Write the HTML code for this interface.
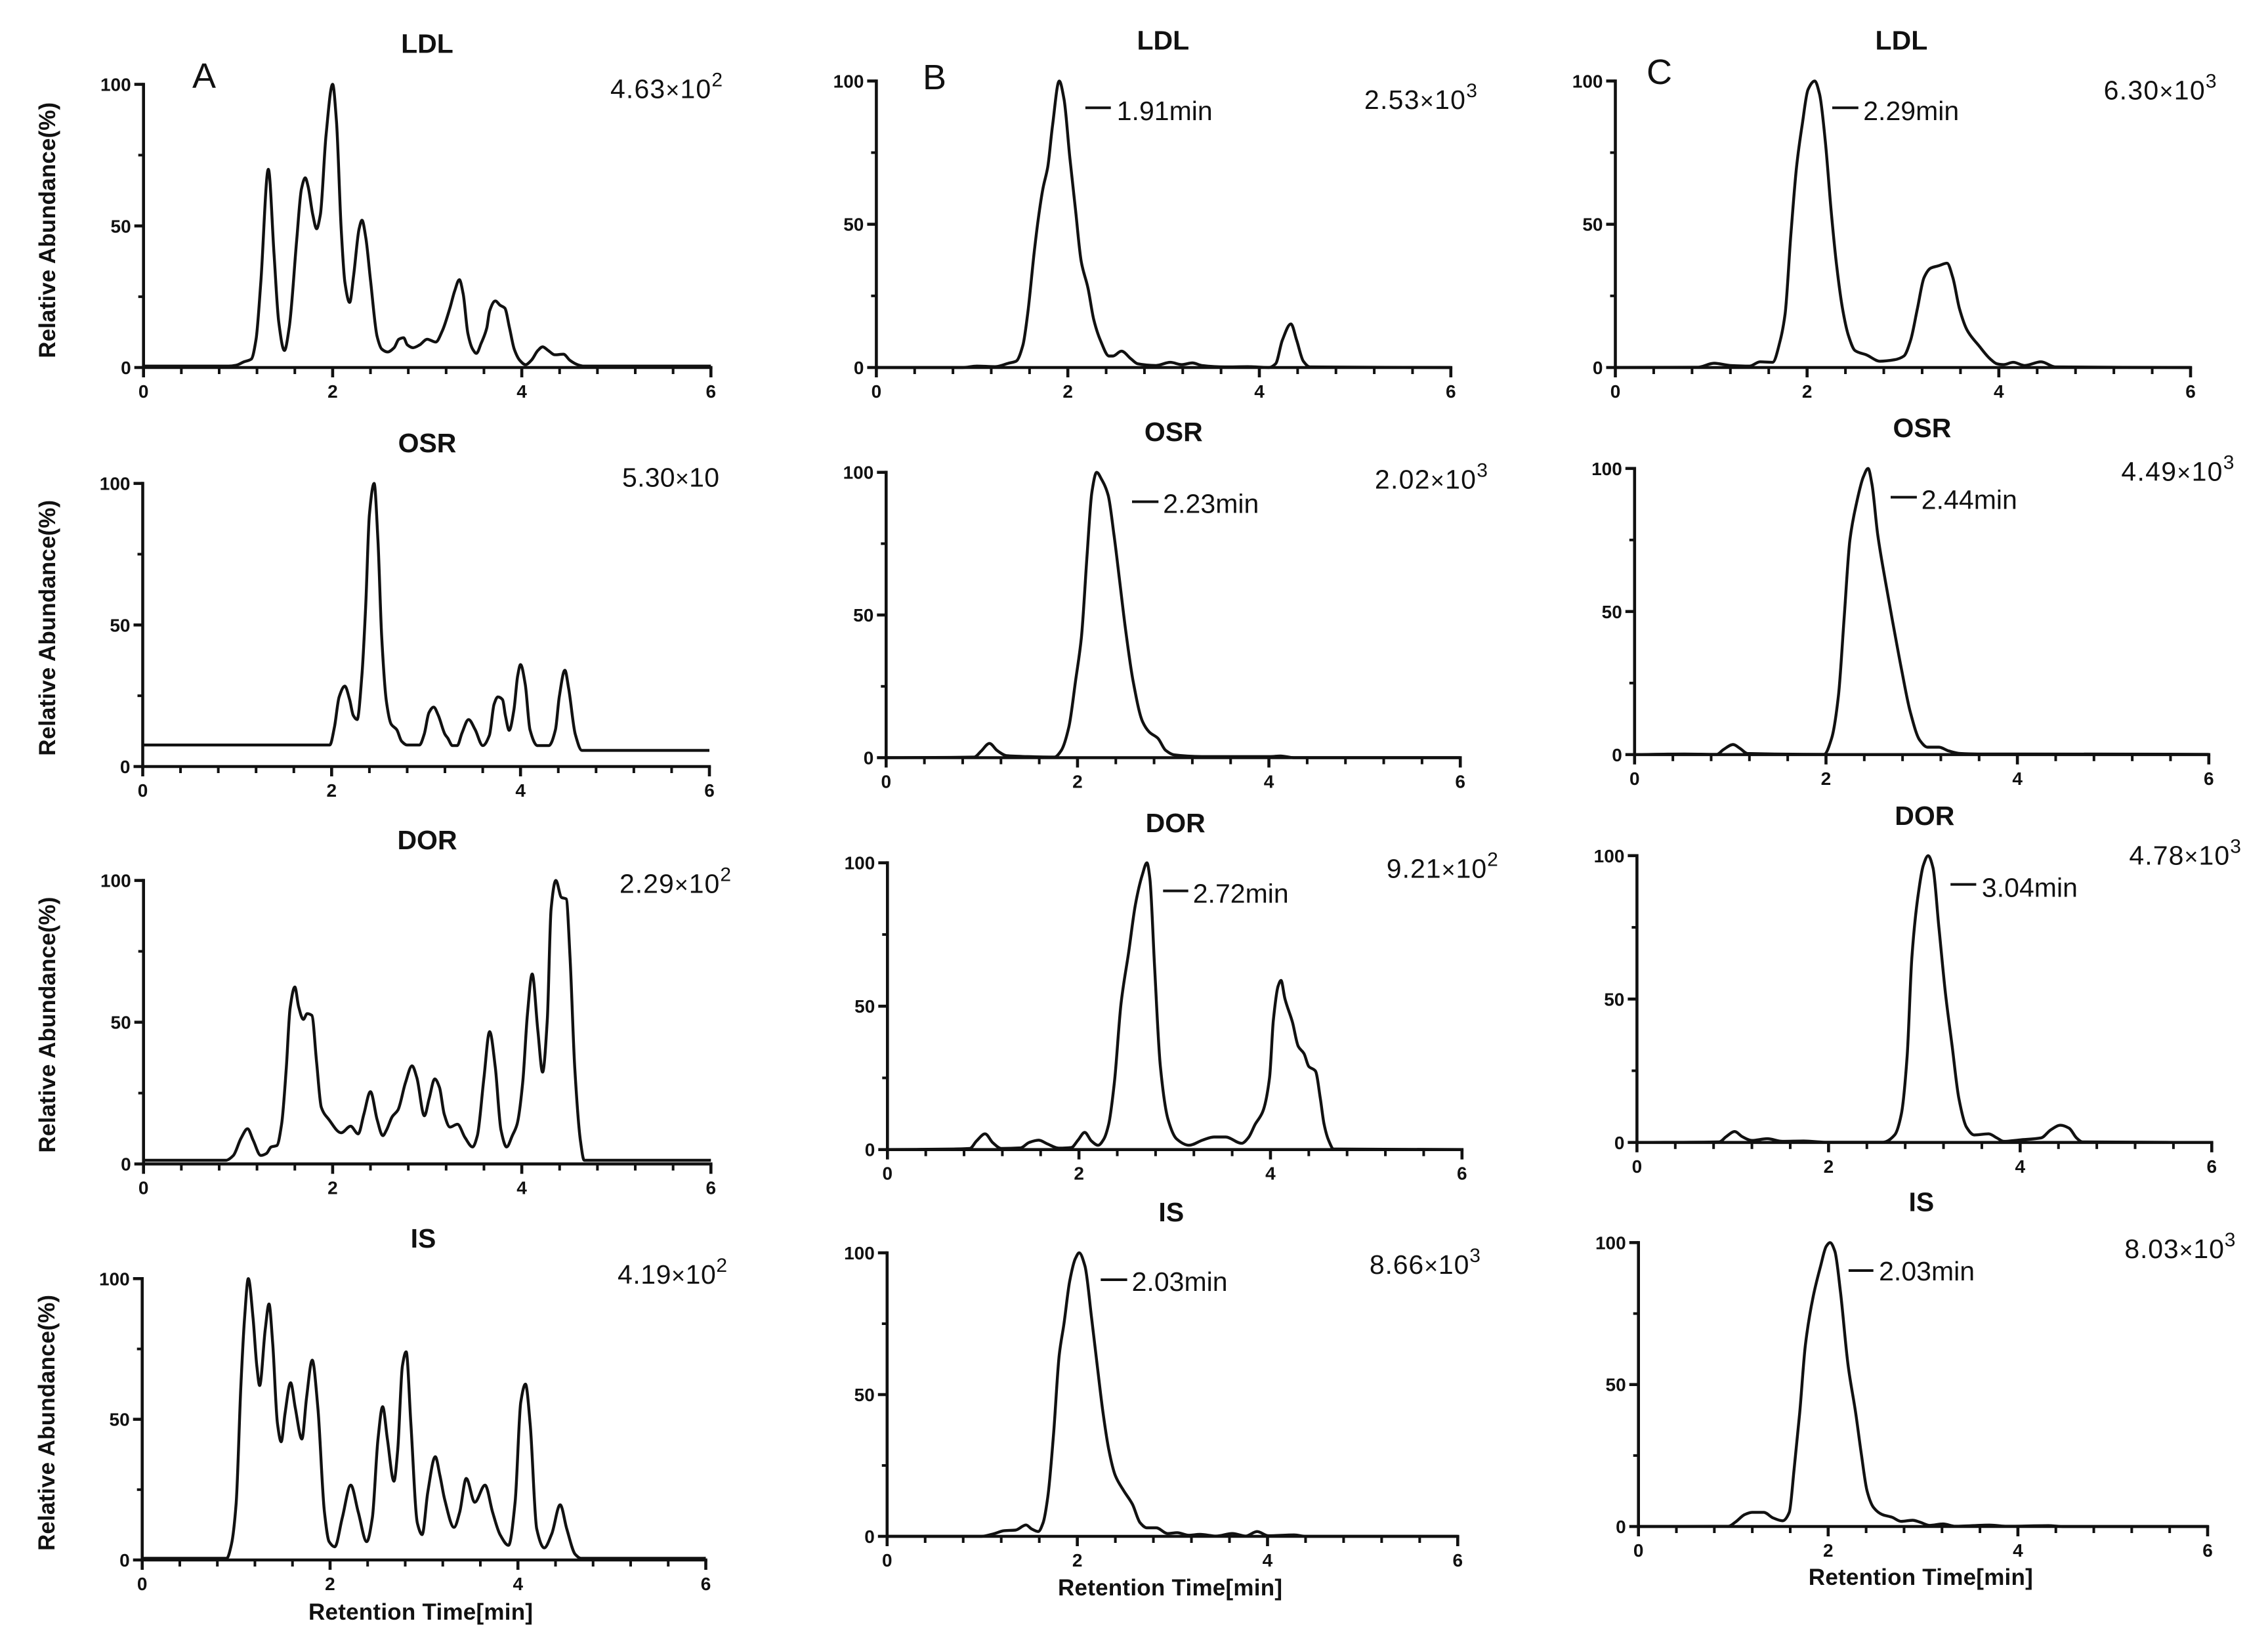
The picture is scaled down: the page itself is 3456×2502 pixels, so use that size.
<!DOCTYPE html>
<html lang="en">
<head>
<meta charset="utf-8">
<title>LC-MS/MS chromatograms</title>
<style>
html,body{margin:0;padding:0;background:#fff;width:3456px;height:2502px;overflow:hidden}
svg{display:block;font-family:"Liberation Sans",sans-serif}
</style>
</head>
<body>
<svg id="figure" xmlns="http://www.w3.org/2000/svg" width="3456" height="2502" viewBox="0 0 3456 2502">
<rect width="3456" height="2502" fill="#fff"/>
<text x="293" y="134" font-size="54" fill="#111">A</text>
<text x="1406" y="136" font-size="54" fill="#111">B</text>
<text x="2509" y="128" font-size="54" fill="#111">C</text>
</svg>
<script>
const xTickValues=[0,0.4,0.8,1.2,1.6,2,2.4,2.8,3.2,3.6,4,4.4,4.8,5.2,5.6,6];
const xTickLabels=["0","2","4","6"];
const yTickValues=[0,25,50,75,100];
const yTickLabels=["0","50","100"];

const ldlATimes=[0,0.9,0.98,1.06,1.14,1.19,1.24,1.32,1.38,1.43,1.49,1.54,1.62,1.67,1.71,1.74,1.79,1.83,1.87,1.93,2,2.04,2.09,2.13,2.18,2.22,2.28,2.31,2.35,2.4,2.47,2.52,2.58,2.65,2.7,2.75,2.79,2.85,2.92,3,3.09,3.16,3.24,3.29,3.34,3.38,3.43,3.48,3.52,3.57,3.63,3.66,3.72,3.77,3.82,3.87,3.92,3.98,4.04,4.1,4.17,4.22,4.28,4.35,4.44,4.51,4.59,4.65,6];
const ldlAValues=[0.5,0.5,0.8,2,3,10,30,70,40,16,6,14,45,63,67,64,54,49,54,82,100,87,49,30,23,32,49,52,46,31,11,6.5,5.5,7,10,10.5,8,7,8,10,9,13,21,27,31,26,12,6.5,5,8.5,14,20,23.5,22,21,14,6.5,2.5,1,2.5,6,7.3,6,4.5,4.7,2.5,1,0.5,0.5];
const osrATimes=[0,1.98,2.03,2.08,2.14,2.19,2.23,2.27,2.32,2.36,2.4,2.45,2.49,2.53,2.58,2.63,2.69,2.74,2.8,2.93,2.98,3.03,3.08,3.13,3.2,3.23,3.28,3.33,3.38,3.45,3.52,3.6,3.67,3.72,3.76,3.81,3.84,3.88,3.93,3.97,4,4.05,4.1,4.18,4.3,4.37,4.41,4.47,4.51,4.58,4.65,6];
const osrAValues=[7.6,7.6,14,24.6,28.4,23.7,18,16.6,32,56,89,100,80,46,23,15,13,9,7.6,7.6,11.4,19,21,18,11.4,10,7.4,7.4,11.8,16.6,13,7.4,11,22,24.6,23.6,18,12.8,20,32,36,29,13,7.4,7.4,13,24.6,34,27.5,11.4,5.7,5.7];
const dorATimes=[0,0.87,0.95,1.03,1.1,1.16,1.24,1.3,1.35,1.41,1.46,1.51,1.55,1.6,1.64,1.69,1.73,1.78,1.83,1.88,1.96,2.09,2.19,2.27,2.33,2.4,2.47,2.53,2.57,2.63,2.69,2.77,2.84,2.89,2.97,3.02,3.08,3.13,3.18,3.24,3.32,3.4,3.48,3.53,3.6,3.66,3.72,3.78,3.84,3.9,3.95,4.01,4.06,4.11,4.17,4.22,4.27,4.31,4.36,4.42,4.47,4.51,4.56,4.62,4.66,6];
const dorAValues=[1.3,1.3,3,9,12.4,8.3,3,3.7,6,6.5,14,34,55,62.4,55.5,51,53,52.4,36,20,15.7,11,13.3,10.6,17.6,25.5,15.7,10,12,16.7,19,28.7,34.6,30.5,17,23,30,27,17.6,13,14,9.3,6,10,30.5,46.7,34,12,6,10,14,28.7,52.8,67,47,32.4,51,90,100,94,93.5,73,34,8.3,1.3,1.3];
const isATimes=[0,0.9,0.95,1,1.05,1.09,1.13,1.18,1.22,1.25,1.31,1.35,1.39,1.44,1.48,1.52,1.58,1.63,1.7,1.75,1.81,1.87,1.94,1.99,2.05,2.13,2.22,2.3,2.39,2.45,2.51,2.56,2.61,2.68,2.72,2.77,2.81,2.86,2.93,2.98,3.04,3.12,3.17,3.22,3.32,3.38,3.45,3.54,3.65,3.73,3.81,3.9,3.97,4.03,4.08,4.13,4.2,4.28,4.36,4.45,4.52,4.61,4.67,6];
const isAValues=[0.6,0.6,5.6,20,61.6,86,100,86,69,62,82,91,76.5,48.5,42,52,63,54,43,57.8,71,54,17,6.5,4.7,15,26.6,17,6.5,15,43,54.5,43,28,39,69,74,48.5,13,9,24,36.7,30,21.5,11.6,17,29,20.5,26.6,17,9,5.2,20.5,56,62.5,48.5,11,4.3,9.3,19.6,11,2,0.6,0.6];

const ldlBTimes=[0,0.9,1.05,1.24,1.38,1.46,1.53,1.58,1.65,1.69,1.74,1.79,1.84,1.91,1.96,2.02,2.08,2.14,2.21,2.27,2.34,2.43,2.47,2.56,2.66,2.73,2.92,3.07,3.19,3.3,3.4,3.64,3.88,4.1,4.17,4.24,4.33,4.39,4.46,4.53,6];
const ldlBValues=[0,0,0.5,0.3,1.5,2.2,7.7,18.6,40.6,51.6,62.5,70,84.5,100,93.6,73.5,55,37,27.8,16.8,9.5,4,4,5.7,3,1.3,0.7,1.8,1,1.6,0.7,0.2,0.3,0,1.3,9.5,15.2,9.5,2.2,0.2,0];
const osrBTimes=[0,0.92,0.99,1.08,1.16,1.26,1.47,1.76,1.83,1.91,1.98,2.04,2.1,2.15,2.2,2.25,2.32,2.38,2.44,2.5,2.58,2.68,2.75,2.84,2.92,3.01,3.3,4.02,4.12,4.26,6];
const osrBValues=[0,0.2,2.2,5,2.5,0.7,0.4,0.2,2.5,10.8,27,42,71,93,100,97.6,92,78.4,62,45.5,27,12.6,9,6.8,2.6,1,0.4,0.4,0.6,0,0];
const dorBTimes=[0,0.69,0.86,0.93,1.02,1.1,1.19,1.39,1.48,1.58,1.67,1.79,1.92,1.99,2.06,2.13,2.2,2.26,2.31,2.37,2.44,2.52,2.59,2.66,2.71,2.74,2.79,2.85,2.93,3.02,3.15,3.29,3.41,3.53,3.7,3.77,3.84,3.92,3.99,4.03,4.08,4.11,4.15,4.23,4.29,4.35,4.4,4.47,4.52,4.56,4.61,4.66,6];
const dorBValues=[0,0.2,0.4,3,5.5,2.4,0.4,0.6,2.5,3.3,2,0.5,0.7,3.3,6,3,1.5,3.7,8.8,23.4,51,69,85.5,95.6,100,94.7,63.6,29,10.6,3.7,1.5,3.3,4.4,4.4,2.2,4.2,8.8,13.3,25,45,57,59,52.7,44.4,36,33.5,29,27.4,18,8.8,3,0.2,0];
const isBTimes=[0,0.99,1.13,1.23,1.35,1.46,1.52,1.59,1.64,1.69,1.75,1.81,1.86,1.92,1.98,2.02,2.08,2.15,2.21,2.27,2.33,2.4,2.49,2.58,2.66,2.73,2.83,2.95,3.05,3.17,3.29,3.46,3.63,3.77,3.89,4.01,4.28,4.4,6];
const isBValues=[0,0,1,2,2.2,4,2.6,1.7,4.8,14,36,64,75,90,98,100,95.4,77,60,43.6,30.7,21.4,16,11.3,4.8,3,3,1,1.3,0.4,0.7,0.1,1,0.1,1.7,0.2,0.5,0,0];

const ldlCTimes=[0,0.86,1.03,1.2,1.4,1.51,1.64,1.72,1.77,1.83,1.89,1.95,2.01,2.08,2.13,2.19,2.25,2.31,2.37,2.43,2.5,2.62,2.76,2.91,3.01,3.08,3.15,3.22,3.29,3.37,3.46,3.52,3.59,3.67,3.79,3.91,3.98,4.05,4.15,4.27,4.44,4.59,6];
const ldlCValues=[0,0.1,1.5,0.7,0.5,2,1.8,9.5,18.6,46,70,85,97,100,95.4,79,55,35,20.5,11.3,5.9,4.4,2.2,2.7,4,9.5,20.5,31.4,34.7,35.5,36.4,31.4,20.5,13,7.7,3,1.3,1,1.8,0.7,2,0.2,0];
const osrCTimes=[0,0.52,0.86,0.93,1.03,1.1,1.18,1.98,2.06,2.13,2.19,2.25,2.32,2.39,2.44,2.48,2.54,2.62,2.71,2.79,2.88,2.98,3.06,3.18,3.28,3.4,3.59,4.08,6];
const osrCValues=[0,0.2,0.1,1.8,3.5,2.2,0.4,0.1,5.8,20.5,48,75,88,97,100,94.5,77,60.7,44,29.6,15,5,2.6,2.6,1.3,0.4,0.2,0.2,0.1];
const dorCTimes=[0,0.86,0.93,1.02,1.1,1.2,1.36,1.52,1.74,1.96,2.57,2.69,2.76,2.82,2.87,2.93,2.99,3.04,3.09,3.15,3.22,3.29,3.36,3.44,3.52,3.67,3.76,3.83,4,4.22,4.32,4.42,4.51,4.59,4.65,6];
const dorCValues=[0,0.2,2,3.8,2,0.7,1.3,0.4,0.5,0.1,0.1,2.6,9.9,30,64.7,85,96.7,100,95.8,75.7,52,33.6,15.4,5.3,2.6,3,1.5,0.4,0.9,1.6,4.4,6,5,1.5,0.2,0];
const isCTimes=[0,0.95,1.02,1.12,1.2,1.32,1.42,1.52,1.59,1.64,1.7,1.76,1.84,1.92,1.98,2.02,2.07,2.13,2.21,2.29,2.35,2.41,2.48,2.57,2.67,2.77,2.89,2.97,3.07,3.21,3.34,3.7,3.88,4.32,4.47,6];
const isCValues=[0,0.1,1.5,4.2,5,5,3,2,5,20,40,64,80.7,91.7,98.7,100,97,82.5,56.7,40,25.4,12.5,6.6,4.2,3.3,1.8,2.2,1.5,0.4,0.9,0.1,0.5,0.1,0.3,0,0];

const panelNames=["LDL","OSR","DOR","IS","LDL","OSR","DOR","IS","LDL","OSR","DOR","IS"];
const panelColumns=["a","a","a","a","b","b","b","b","c","c","c","c"];
const panelTimes=[ldlATimes,osrATimes,dorATimes,isATimes,ldlBTimes,osrBTimes,dorBTimes,isBTimes,ldlCTimes,osrCTimes,dorCTimes,isCTimes];
const panelValues=[ldlAValues,osrAValues,dorAValues,isAValues,ldlBValues,osrBValues,dorBValues,isBValues,ldlCValues,osrCValues,dorCValues,isCValues];
const intensityBases=["4.63×10","5.30×10","2.29×10","4.19×10","2.53×10","2.02×10","9.21×10","8.66×10","6.30×10","4.49×10","4.78×10","8.03×10"];
const intensityExponents=["2","","2","2","3","3","2","3","3","3","3","3"];
const retentionLabels=["","","","","1.91min","2.23min","2.72min","2.03min","2.29min","2.44min","3.04min","2.03min"];

/* layout only: plot frame [x at 0, x at 6, y at 100, y at 0] */
const plotFrames=[[218.7,1083.3,128.5,560],[217.5,1081,736.6,1168],[218.7,1083.3,1341.6,1773.6],[216.7,1075.5,1948.3,2377],
[1335.4,2210.8,123.4,560],[1350.3,2225.2,719.7,1154.5],[1352.3,2227.8,1314.7,1751.7],[1351.8,2221.3,1909,2341],
[2461.5,3338,123.4,560],[2490.8,3365.8,713.8,1149.8],[2494.4,3370.3,1303.8,1740.8],[2496.7,3364,1893.4,2326]];
/* layout only: title [center x, baseline y] */
const titleSpots=[[651,80.7],[651,689],[651,1293.8],[645,1901],[1772.3,75.7],[1788.3,672],[1791.2,1267.9],[1784.8,1861],[2897.4,75.7],[2928.9,666],[2932.8,1256.9],[2927.9,1845.6]];
/* layout only: intensity label [left x, baseline y, width] */
const intensitySpots=[[930,149.5,171],[948,741.6,148],[944,1360.5,170],[941,1956,167],[2078.9,166,172],[2094.9,744.6,172],[2112.8,1337.6,170],[2086.9,1941,169],[3205.6,151.3,172],[3232.4,732.7,172],[3244.4,1317.7,170.5],[3237.4,1917,169]];
/* layout only: retention note [dash x1, dash x2, dash y, text x, text baseline] */
const noteSpots=[null,null,null,null,[1653.9,1692.7,164.3,1701.7,183],[1725,1765.3,764.5,1772.3,781.5],[1772.3,1810.7,1357.5,1817.7,1375.5],[1677.3,1717.6,1950,1724.6,1967],[2792,2831.8,164.3,2839.2,183],[2881,2920.9,757.6,2927.8,775.5],[2972.2,3011.4,1347.6,3019.9,1366.5],[2816.9,2854.7,1936,2863.1,1951]];
/* layout only: y axis title [baseline x, center y] for column A */
const yTitleSpots=[[84,350.8],[84,956.8],[84,1561.6],[83,2168]];
/* layout only: x axis title [center x, baseline y] for bottom row */
const xTitleSpots=[[641,2468],[1783,2431],[2926.8,2415]];

const SVG_NS="http://www.w3.org/2000/svg";
const figure=document.getElementById("figure");
const INK="#111";

function mk(tag,attrs,parent,text){
  const el=document.createElementNS(SVG_NS,tag);
  for(const k in attrs){el.setAttribute(k,attrs[k]);}
  if(text!==undefined){el.textContent=text;}
  parent.appendChild(el);
  return el;
}
function monotonePath(px,py){
  const n=px.length;
  const d=[],m=[];
  for(let i=0;i<n-1;i++){d.push((py[i+1]-py[i])/((px[i+1]-px[i])||1));}
  m[0]=d[0];
  m[n-1]=d[n-2];
  for(let i=1;i<n-1;i++){
    if(d[i-1]*d[i]<=0){m[i]=0;}
    else{
      const h0=px[i]-px[i-1],h1=px[i+1]-px[i];
      m[i]=3*(h0+h1)/((2*h1+h0)/d[i-1]+(h1+2*h0)/d[i]);
    }
  }
  let s="M"+px[0].toFixed(1)+" "+py[0].toFixed(1);
  for(let i=0;i<n-1;i++){
    const h=(px[i+1]-px[i])/3;
    s+="C"+(px[i]+h).toFixed(1)+" "+(py[i]+m[i]*h).toFixed(1)+" "+(px[i+1]-h).toFixed(1)+" "+(py[i+1]-m[i+1]*h).toFixed(1)+" "+px[i+1].toFixed(1)+" "+py[i+1].toFixed(1);
  }
  return s;
}

panelNames.forEach(function(name,p){
  const frame=plotFrames[p];
  const col=panelColumns[p];
  const slug=name.toLowerCase()+"-"+col;
  const xScale=function(t){return frame[0]+(t/6)*(frame[1]-frame[0]);};
  const yScale=function(v){return frame[3]-(v/100)*(frame[3]-frame[2]);};

  const g=mk("g",{},figure);
  
  

  const title=mk("text",{x:titleSpots[p][0],y:titleSpots[p][1],"text-anchor":"middle","font-size":41,"font-weight":"bold",fill:INK},g,name);
  
  

  const xAxis=mk("line",{x1:xScale(0)-2.3,x2:xScale(6)+2.3,y1:yScale(0),y2:yScale(0),stroke:INK,"stroke-width":4.6},g);
  
  

  const yAxis=mk("line",{x1:xScale(0),x2:xScale(0),y1:yScale(100)-2.3,y2:yScale(0)+2.3,stroke:INK,"stroke-width":4.6},g);
  
  

  xTickValues.forEach(function(t){
    const major=Number.isInteger(t/2);
    const tick=mk("line",{x1:xScale(t),x2:xScale(t),y1:yScale(0),y2:yScale(0)+(major?15:10),stroke:INK,"stroke-width":major?4.6:4},g);
    
    
  });
  xTickLabels.forEach(function(label){
    const lab=mk("text",{x:xScale(Number(label)),y:yScale(0)+46,"text-anchor":"middle","font-size":28,"font-weight":"bold",fill:INK},g,label);
    
    
  });
  yTickValues.forEach(function(v){
    const major=v%50===0;
    const tick=mk("line",{x1:xScale(0)-(major?14:8),x2:xScale(0),y1:yScale(v),y2:yScale(v),stroke:INK,"stroke-width":major?4.6:4},g);
    
    
  });
  yTickLabels.forEach(function(label){
    const lab=mk("text",{x:xScale(0)-19,y:yScale(Number(label))+10,"text-anchor":"end","font-size":28,"font-weight":"bold",fill:INK},g,label);
    
    
  });

  const curve=mk("path",{d:monotonePath(panelTimes[p].map(xScale),panelValues[p].map(yScale)),fill:"none",stroke:INK,"stroke-width":4.4,"stroke-linejoin":"round"},g);
  
  

  const spot=intensitySpots[p];
  const parts=intensityBases[p].split("×");
  const intensity=mk("text",{x:spot[0],y:spot[1],"font-size":41,fill:INK,textLength:spot[2]},g,parts[0]);
  
  
  mk("tspan",{"font-size":36},intensity,"×");
  mk("tspan",{},intensity,parts[1]);
  if(intensityExponents[p]){
    mk("tspan",{dy:-18,"font-size":30},intensity,intensityExponents[p]);
  }

  const note=noteSpots[p];
  if(note){
    const dash=mk("line",{x1:note[0],x2:note[1],y1:note[2],y2:note[2],stroke:INK,"stroke-width":4},g);
    
    
    const rt=mk("text",{x:note[3],y:note[4],"font-size":41,fill:INK,textLength:146},g,retentionLabels[p]);
    
    
  }
});

yTitleSpots.forEach(function(s){
  const t=mk("text",{transform:"translate("+s[0]+" "+s[1]+") rotate(-90)","text-anchor":"middle","font-size":35,"font-weight":"bold",fill:INK,textLength:390},figure,"Relative Abundance(%)");
  
  
});
xTitleSpots.forEach(function(s){
  const t=mk("text",{x:s[0],y:s[1],"text-anchor":"middle","font-size":35,"font-weight":"bold",fill:INK,textLength:342},figure,"Retention Time[min]");
  
  
});
</script>
</body>
</html>
